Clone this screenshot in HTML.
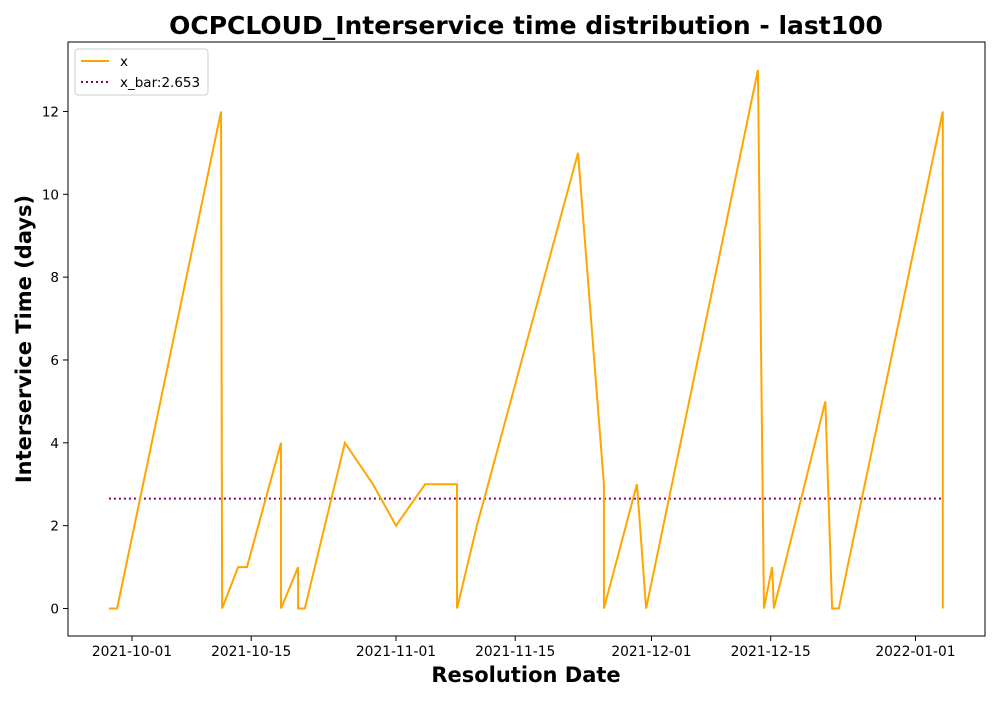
<!DOCTYPE html>
<html><head><meta charset="utf-8"><style>
body{margin:0;background:#fff;font-family:"Liberation Sans","DejaVu Sans",sans-serif;}
</style></head><body>
<svg width="1000" height="700" xmlns="http://www.w3.org/2000/svg" font-family="DejaVu Sans, Liberation Sans, sans-serif">
<text x="526" y="34" text-anchor="middle" font-size="25" font-weight="bold">OCPCLOUD_Interservice time distribution - last100</text>
<rect x="68" y="42" width="917" height="594" fill="none" stroke="#000" stroke-width="1"/>
<g id="yt"></g><g id="xt"></g>
<g id="marks"></g>
<text x="526" y="682" text-anchor="middle" font-size="21" font-weight="bold">Resolution Date</text>
<text transform="translate(31,339) rotate(-90)" text-anchor="middle" font-size="21" font-weight="bold">Interservice Time (days)</text>
<g>
<rect x="75" y="49" width="133" height="46" fill="#fff" stroke="#ccc" rx="3"/>
<line x1="81" y1="61" x2="109" y2="61" stroke="orange" stroke-width="2"/>
<text x="120" y="66" font-size="13.5">x</text>
<line x1="81" y1="82" x2="109" y2="82" stroke="purple" stroke-width="2" stroke-dasharray="2,3"/>
<text x="120" y="87" font-size="13.5">x_bar:2.653</text>
</g>
</svg>
<script>
const dates=["2021-09-28T07:00","2021-09-29T06:00","2021-10-11T11:00","2021-10-11T14:00","2021-10-13T11:00","2021-10-14T12:00","2021-10-18T12:00","2021-10-18T12:01","2021-10-20T12:00","2021-10-20T12:01","2021-10-21T07:00","2021-10-26T00:00","2021-10-29T07:00","2021-11-01T00:00","2021-11-04T10:00","2021-11-08T04:00","2021-11-08T04:01","2021-11-10T12:00","2021-11-22T09:00","2021-11-25T10:00","2021-11-25T10:01","2021-11-29T07:00","2021-11-30T09:00","2021-12-13T12:00","2021-12-14T05:00","2021-12-15T04:00","2021-12-15T09:00","2021-12-21T10:00","2021-12-22T05:00","2021-12-23T00:00","2022-01-04T05:00","2022-01-04T05:01"];
const values=[0,0,12,0,1,1,4,0,1,0,0,4,3,2,3,3,0,2,11,3,0,3,0,13,0,1,0,5,0,0,12,0];
const xbar=2.653;
const yTicks=[0,2,4,6,8,10,12];
const xTickLabels=["2021-10-01","2021-10-15","2021-11-01","2021-11-15","2021-12-01","2021-12-15","2022-01-01"];
const NS="http://www.w3.org/2000/svg";
const t0=Date.parse("2021-10-01T00:00Z"),DAY=86400000;
function X(s){return 132+(Date.parse(s+(s.length<=10?"T00:00Z":"Z"))-t0)/DAY*8.516;}
function Y(v){return 608.5-v*41.42;}
function mk(tag,attrs,parent){const e=document.createElementNS(NS,tag);for(const k in attrs)e.setAttribute(k,attrs[k]);parent.appendChild(e);return e;}
const yt=document.getElementById('yt'),xt=document.getElementById('xt'),mg=document.getElementById('marks');
yTicks.forEach(v=>{
 const l=mk('line',{x1:63,x2:68,y1:Y(v),y2:Y(v),stroke:'#000'},yt);
 
 
 const t=mk('text',{x:59,y:Y(v)+5,'text-anchor':'end','font-size':13.5},yt);t.textContent=v;
 
 
});
xTickLabels.forEach(s=>{
 const x=X(s);
 const l=mk('line',{x1:x,x2:x,y1:636,y2:641,stroke:'#000'},xt);
 
 
 const t=mk('text',{x:x,y:656,'text-anchor':'middle','font-size':13.8},xt);t.textContent=s;
 
 
});
const mean=mk('line',{x1:X(dates[0]),x2:X(dates[dates.length-1]),y1:Y(xbar),y2:Y(xbar),stroke:'purple','stroke-width':2,'stroke-dasharray':'2,3'},mg);


const pts=dates.map((d,i)=>X(d).toFixed(2)+','+Y(values[i]).toFixed(2)).join(' ');
const pl=mk('polyline',{points:pts,fill:'none',stroke:'orange','stroke-width':2,'stroke-linejoin':'miter'},mg);


</script>
</body></html>
